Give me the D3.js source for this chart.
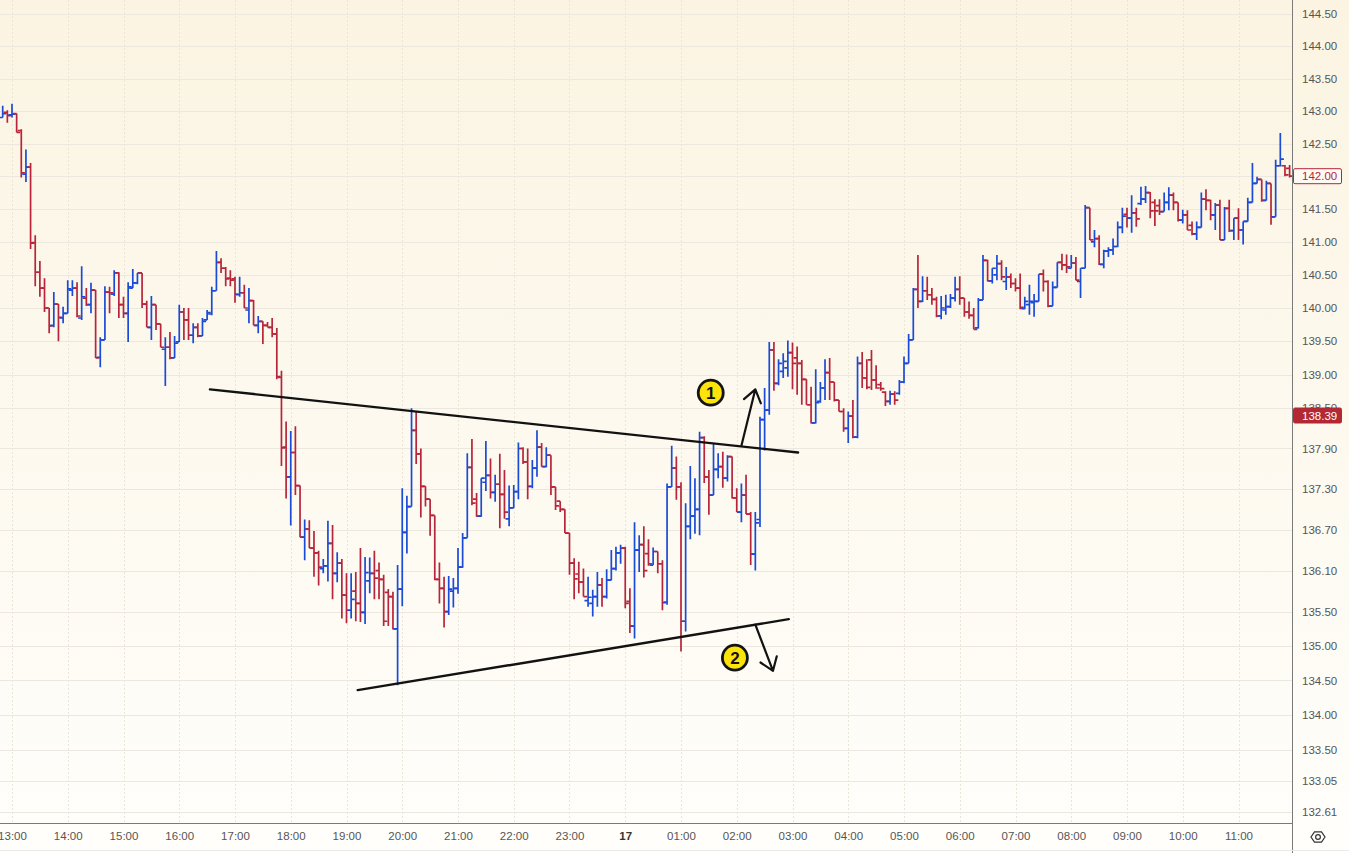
<!DOCTYPE html>
<html>
<head>
<meta charset="utf-8">
<script src="https://cdn.jsdelivr.net/npm/d3@7"></script>
<style>
  html, body { margin: 0; padding: 0; background: #fff; }
  svg { display: block; font-family: "Liberation Sans", Arial, sans-serif; }
</style>
</head>
<body>
<svg id="chart" width="1349" height="853"></svg>
<script>
// 5-minute OHLC bars, first bar at 12:50 on the 16th
const barStart = new Date(2023, 0, 16, 12, 50);
const barMinutes = 5;

const opens = [
  142.90,142.98,142.94,142.96,142.70,142.03,142.14,140.99,140.54,140.30,
  140.00,139.74,140.06,139.85,139.92,140.27,140.30,139.85,140.15,140.05,
  140.27,139.26,139.52,140.24,140.21,140.53,140.05,139.92,140.30,140.38,
  140.53,140.06,139.71,140.05,139.76,139.38,139.41,139.25,139.49,139.94,
  139.82,139.59,139.71,139.58,139.82,139.91,140.26,140.69,140.60,140.45,
  140.44,140.20,140.23,139.97,140.11,139.74,139.80,139.74,139.71,139.61,
  138.96,137.92,137.48,137.84,137.35,136.59,136.71,136.43,136.36,136.13,
  136.17,136.50,136.06,136.21,135.74,135.52,135.80,135.62,135.49,135.95,
  136.06,136.10,135.97,135.78,135.72,135.25,135.83,136.66,137.04,138.17,
  137.82,137.34,137.15,136.91,135.97,135.84,135.50,135.80,135.84,136.15,
  136.58,137.62,137.15,136.90,137.40,137.50,137.25,137.37,137.22,136.86,
  137.02,137.26,137.90,137.70,137.34,137.61,137.92,137.63,137.80,137.33,
  137.12,137.00,136.65,136.21,136.05,135.93,135.66,135.62,135.72,135.89,
  135.72,135.96,136.13,136.36,136.43,135.65,135.29,136.40,136.48,136.35,
  136.18,136.38,136.20,135.64,137.33,137.61,137.33,135.36,136.75,136.90,
  137.00,138.06,137.48,137.21,137.59,137.63,137.46,137.78,137.17,136.96,
  137.21,136.93,136.34,136.85,138.33,138.47,139.37,138.87,139.05,139.10,
  139.33,139.25,139.17,138.93,138.55,138.28,138.60,138.80,139.03,138.89,
  138.62,138.45,138.20,138.38,138.07,139.17,138.95,139.22,138.92,138.85,
  138.74,138.60,138.71,138.72,138.89,139.17,139.52,140.28,140.10,140.26,
  140.20,140.13,139.88,139.97,140.02,140.15,140.28,140.15,139.94,139.89,
  139.70,140.12,140.72,140.41,140.50,140.67,140.40,140.47,140.37,140.30,
  139.99,140.05,140.08,140.10,140.51,140.40,140.03,140.31,140.69,140.65,
  140.60,140.68,140.40,140.60,141.52,141.00,141.05,140.66,140.86,140.88,
  140.93,141.22,141.42,141.36,141.44,141.58,141.65,141.75,141.60,141.55,
  141.46,141.60,141.71,141.60,141.33,141.41,141.25,141.12,141.22,141.65,
  141.63,141.41,141.56,141.03,141.51,141.17,141.36,141.18,141.31,141.60,
  141.89,141.95,141.63,141.89,141.38,142.16,142.16,142.12
];
const highs = [
  143.08,143.01,143.11,142.96,142.72,142.41,142.20,141.10,140.71,140.45,
  140.00,140.24,140.06,140.02,140.42,140.42,140.39,140.63,140.30,140.38,
  140.27,139.56,140.33,140.32,140.57,140.54,140.17,140.39,140.59,140.53,
  140.53,140.11,140.18,140.05,139.76,139.56,139.64,139.58,140.05,140.00,
  140.00,139.77,139.77,139.85,139.97,140.32,140.86,140.75,140.62,140.57,
  140.47,140.47,140.35,140.30,140.12,139.88,139.80,139.79,139.85,139.70,
  139.06,138.30,138.16,138.23,137.35,136.85,136.84,136.68,136.39,136.27,
  136.83,136.77,136.37,136.27,136.06,136.06,136.08,136.43,136.30,136.29,
  136.39,136.22,136.04,135.83,135.79,136.18,137.31,137.20,138.50,138.45,
  137.90,137.34,137.15,136.91,136.22,136.01,136.02,135.99,136.43,136.65,
  137.83,138.04,137.24,137.46,138.01,137.75,137.51,137.82,137.58,137.35,
  137.36,137.99,137.92,137.90,137.73,138.17,137.98,137.92,137.80,137.33,
  137.12,137.00,136.65,136.28,136.23,136.13,136.01,135.82,136.08,135.99,
  136.12,136.40,136.45,136.48,136.45,135.84,136.81,136.62,136.75,136.56,
  136.44,136.38,136.25,137.38,137.94,137.78,137.40,137.09,137.64,137.46,
  138.15,138.08,137.58,137.98,137.83,137.85,137.80,137.78,137.31,137.38,
  137.51,136.96,136.96,138.37,138.80,139.49,139.49,139.23,139.32,139.51,
  139.48,139.42,139.22,138.93,138.82,139.08,138.89,139.23,139.25,138.89,
  138.62,138.50,138.45,138.62,139.27,139.34,139.23,139.37,139.14,138.89,
  138.75,138.76,138.75,138.92,139.27,139.61,140.30,140.80,140.48,140.47,
  140.30,140.17,140.18,140.20,140.21,140.47,140.48,140.15,140.10,140.00,
  140.15,140.80,140.73,140.60,140.80,140.72,140.62,140.52,140.45,140.52,
  140.17,140.35,140.21,140.51,140.58,140.42,140.40,140.69,140.82,140.81,
  140.80,140.77,140.60,141.56,141.52,141.18,141.10,140.88,140.92,141.05,
  141.31,141.52,141.52,141.71,141.52,141.84,141.85,141.76,141.65,141.65,
  141.75,141.83,141.75,141.60,141.49,141.48,141.31,141.31,141.75,141.80,
  141.64,141.59,141.64,141.53,141.64,141.36,141.51,141.31,141.67,142.20,
  141.99,141.95,141.93,141.89,142.25,142.66,142.17,142.17
];
const lows = [
  142.90,142.82,142.90,142.67,141.98,141.91,140.89,140.33,140.17,139.94,
  139.62,139.71,139.50,139.77,139.92,140.18,139.86,139.82,140.03,139.92,
  139.25,139.11,139.52,139.92,140.18,139.85,139.85,139.49,140.30,140.36,
  140.00,139.71,139.52,139.67,139.41,138.83,139.23,139.25,139.49,139.52,
  139.52,139.47,139.56,139.58,139.82,139.89,140.26,140.53,140.33,140.33,
  140.08,140.17,140.00,139.77,139.74,139.62,139.46,139.71,139.56,138.93,
  137.64,137.16,136.76,137.21,136.59,136.25,136.43,136.01,135.88,136.06,
  135.94,135.68,135.93,135.40,135.33,135.40,135.36,135.35,135.32,135.77,
  135.68,135.68,135.29,135.29,135.24,134.43,135.58,136.35,137.04,137.67,
  136.88,137.04,136.61,135.96,135.62,135.27,135.45,135.56,135.76,136.14,
  136.58,137.06,136.89,136.89,137.27,137.16,137.11,136.72,136.86,136.75,
  137.02,137.15,137.67,137.15,137.31,137.48,137.63,137.62,137.21,136.99,
  136.96,136.65,136.04,135.68,135.77,135.72,135.57,135.43,135.57,135.57,
  135.69,135.96,136.10,136.20,135.55,135.19,135.11,136.08,136.00,136.17,
  136.18,136.06,135.52,135.60,137.33,137.14,134.92,135.21,136.56,136.64,
  136.62,137.39,136.92,137.21,137.46,137.32,137.41,137.16,136.96,136.81,
  136.93,136.18,136.10,136.74,137.87,138.40,138.76,138.84,138.95,138.97,
  138.78,138.70,138.55,138.55,138.27,138.27,138.58,138.62,138.62,138.60,
  138.45,138.15,137.98,138.05,138.05,138.80,138.78,138.77,138.79,138.76,
  138.53,138.55,138.55,138.70,138.87,139.17,139.52,140.00,140.09,140.12,
  140.05,139.86,139.83,139.90,140.00,140.10,140.05,139.87,139.84,139.68,
  139.69,140.12,140.40,140.37,140.42,140.42,140.27,140.30,140.25,139.98,
  139.98,139.90,139.87,140.10,140.25,140.01,140.03,140.31,140.57,140.53,
  140.60,140.42,140.15,140.60,141.03,140.92,140.65,140.60,140.77,140.80,
  140.92,141.13,141.22,141.14,141.23,141.56,141.59,141.36,141.24,141.41,
  141.46,141.48,141.48,141.31,141.28,141.18,141.10,141.03,141.22,141.48,
  141.33,141.18,141.03,141.03,141.15,141.03,141.03,140.96,141.31,141.60,
  141.89,141.61,141.63,141.26,141.38,142.15,142.00,141.98
];
const closes = [
  142.96,142.93,142.95,142.67,142.05,142.14,140.98,140.54,140.30,140.00,
  139.73,140.06,139.86,139.92,140.29,140.30,139.88,140.17,140.05,140.27,
  139.25,139.52,140.24,140.23,140.53,140.05,139.92,140.32,140.38,140.53,
  140.06,139.71,140.05,139.76,139.41,139.41,139.25,139.47,139.94,139.82,
  139.59,139.71,139.58,139.80,139.93,140.26,140.69,140.60,140.44,140.42,
  140.21,140.23,140.00,140.11,139.74,139.80,139.74,139.71,139.61,138.97,
  137.91,137.48,137.84,137.35,136.59,136.71,136.43,136.36,136.15,136.17,
  136.50,136.06,136.21,135.74,135.52,135.68,135.62,135.49,136.07,136.06,
  135.99,135.97,135.36,135.72,135.25,135.83,136.66,137.04,138.17,137.82,
  137.34,137.15,136.91,135.97,135.84,135.50,135.83,135.84,136.15,136.58,
  137.62,137.09,136.90,137.46,137.50,137.25,137.37,137.22,136.96,137.02,
  137.26,137.90,137.70,137.34,137.61,137.92,137.63,137.80,137.33,137.05,
  137.00,136.65,136.21,135.98,135.93,135.72,135.71,135.72,135.89,135.72,
  135.96,136.13,136.36,136.43,135.62,135.29,136.40,136.48,136.10,136.20,
  136.38,136.20,135.63,137.33,137.61,137.33,135.36,136.75,136.90,137.00,
  138.06,137.48,137.21,137.59,137.63,137.46,137.78,137.17,136.96,137.21,
  136.93,136.34,136.80,138.33,138.47,139.37,138.87,139.17,139.20,139.33,
  139.17,139.17,138.93,138.55,138.28,138.58,138.80,139.03,138.89,138.62,
  138.45,138.20,138.38,138.07,139.17,138.95,138.81,138.92,138.80,138.79,
  138.60,138.71,138.62,138.89,139.17,139.52,140.28,140.10,140.26,140.20,
  140.13,139.88,140.00,140.02,140.15,140.28,140.15,139.94,139.89,139.68,
  140.12,140.72,140.41,140.60,140.67,140.47,140.47,140.37,140.30,140.01,
  140.10,140.10,140.10,140.51,140.40,140.03,140.31,140.69,140.65,140.62,
  140.68,140.42,140.60,141.52,141.03,141.05,140.66,140.86,140.88,140.93,
  141.22,141.39,141.36,141.44,141.35,141.65,141.75,141.47,141.47,141.46,
  141.60,141.71,141.60,141.33,141.41,141.18,141.12,141.22,141.65,141.63,
  141.41,141.56,141.03,141.51,141.17,141.36,141.18,141.31,141.60,141.89,
  141.95,141.63,141.89,141.38,142.16,142.26,142.02,142.00
];

// price axis labels (the axis is logarithmic)
const priceTicks = [144.50, 144.00, 143.50, 143.00, 142.50, 142.00, 141.50, 141.00, 140.50, 140.00,
  139.50, 139.00, 138.50, 137.90, 137.30, 136.70, 136.10, 135.50, 135.00, 134.50,
  134.00, 133.50, 133.05, 132.61];
const markerPrice = 138.39;

// drawings: [time, price] pairs
const at = (day, h, m) => new Date(2023, 0, day, h, m);
const upperLine = [[at(16, 16, 33), 138.78], [at(17, 3, 6), 137.84]];
const lowerLine = [[at(16, 19, 12), 134.36], [at(17, 2, 56), 135.39]];
const arrowUp = [[at(17, 2, 5), 137.94], [at(17, 2, 20), 138.78]];
const arrowDown = [[at(17, 2, 20), 135.31], [at(17, 2, 39), 134.64]];
const badges = [
  { label: "1", time: at(17, 1, 32), price: 138.73 },
  { label: "2", time: at(17, 1, 58), price: 134.83 }
];

const width = 1349, height = 853;
const plotRight = 1292, plotBottom = 823;
const blue = "#1a4bd6", red = "#b7253a";
const labelFont = "'Liberation Sans', Arial, sans-serif";

const bars = opens.map((o, i) => ({
  time: new Date(barStart.getTime() + i * barMinutes * 60000),
  open: o, high: highs[i], low: lows[i], close: closes[i]
}));

const x = d3.scaleTime()
  .domain([at(16, 13, 0), at(17, 11, 0)])
  .range([12, 1238.5]);

const y = d3.scaleLog()
  .domain([132.61, 144.5])
  .range([812, 14]);

const svg = d3.select("#chart");

// background gradient
const defs = svg.append("defs");
const grad = defs.append("linearGradient")
  .attr("id", "bg").attr("x1", 0).attr("y1", 0).attr("x2", 0).attr("y2", 1);
grad.append("stop").attr("offset", "0%").attr("stop-color", "#fbf4e2");
grad.append("stop").attr("offset", "100%").attr("stop-color", "#fffefb");
defs.append("clipPath").attr("id", "plot")
  .append("rect").attr("x", 0).attr("y", 0).attr("width", plotRight).attr("height", plotBottom);

svg.append("rect").attr("width", width).attr("height", height).attr("fill", "url(#bg)");

// grid
const hours = d3.timeHour.range(at(16, 13, 0), at(17, 11, 1));
svg.append("g")
  .selectAll("line")
  .data(hours)
  .join("line")
  .attr("x1", d => Math.round(x(d)) + 0.5)
  .attr("x2", d => Math.round(x(d)) + 0.5)
  .attr("y1", 0)
  .attr("y2", plotBottom)
  .attr("stroke", "#ebe5d8")
  .attr("stroke-dasharray", "2,2");

svg.append("g")
  .selectAll("line")
  .data(priceTicks)
  .join("line")
  .attr("x1", 0)
  .attr("x2", plotRight)
  .attr("y1", d => Math.round(y(d)) + 0.5)
  .attr("y2", d => Math.round(y(d)) + 0.5)
  .attr("stroke", "#ece8e0");

// OHLC bars
const barG = svg.append("g").attr("clip-path", "url(#plot)");
barG.selectAll("path")
  .data(bars)
  .join("path")
  .attr("d", d => {
    const cx = x(d.time);
    return `M${cx},${y(d.high)}V${y(d.low)}` +
      `M${cx - 3.6},${y(d.open)}H${cx}` +
      `M${cx},${y(d.close)}H${cx + 3.6}`;
  })
  .attr("fill", "none")
  .attr("stroke", d => d.close >= d.open ? blue : red)
  .attr("stroke-width", 1.7);

// trend lines and arrows
const line = d3.line().x(d => x(d[0])).y(d => y(d[1]));
const drawG = svg.append("g").attr("clip-path", "url(#plot)");
[upperLine, lowerLine].forEach(pts => {
  drawG.append("path")
    .attr("d", line(pts))
    .attr("stroke", "#121212")
    .attr("stroke-width", 2.4)
    .attr("fill", "none")
    .attr("stroke-linecap", "round");
});

[arrowUp, arrowDown].forEach(pts => {
  const x0 = x(pts[0][0]), y0 = y(pts[0][1]);
  const x1 = x(pts[1][0]), y1 = y(pts[1][1]);
  const ang = Math.atan2(y0 - y1, x0 - x1);
  const len = 15, spread = 0.62;
  const w1 = [x1 + len * Math.cos(ang + spread), y1 + len * Math.sin(ang + spread)];
  const w2 = [x1 + len * Math.cos(ang - spread), y1 + len * Math.sin(ang - spread)];
  drawG.append("path")
    .attr("d", `M${x0},${y0}L${x1},${y1}M${w1[0]},${w1[1]}L${x1},${y1}L${w2[0]},${w2[1]}`)
    .attr("stroke", "#121212")
    .attr("stroke-width", 2.2)
    .attr("fill", "none")
    .attr("stroke-linecap", "round")
    .attr("stroke-linejoin", "round");
});

// numbered badges
const badge = drawG.selectAll("g.badge")
  .data(badges)
  .join("g")
  .attr("class", "badge")
  .attr("transform", d => `translate(${x(d.time)},${y(d.price)})`);
badge.append("circle")
  .attr("r", 12.5)
  .attr("fill", "#fbe30b")
  .attr("stroke", "#141414")
  .attr("stroke-width", 2.8);
badge.append("text")
  .attr("text-anchor", "middle")
  .attr("dy", "0.36em")
  .attr("font-size", 17)
  .attr("font-weight", "bold")
  .attr("fill", "#111")
  .text(d => d.label);

// price axis
const yAxis = svg.append("g")
  .attr("transform", `translate(${plotRight},0)`)
  .call(d3.axisRight(y).tickValues(priceTicks).tickFormat(d3.format(".2f")).tickSize(0).tickPadding(10));
yAxis.select(".domain").remove();
yAxis.selectAll("text")
  .attr("font-family", labelFont)
  .attr("font-size", 11.5)
  .attr("fill", "#555");

svg.append("line")
  .attr("x1", plotRight + 0.5).attr("x2", plotRight + 0.5)
  .attr("y1", 0).attr("y2", height)
  .attr("stroke", "#7a7a7a");

// time axis
const xAxis = svg.append("g")
  .attr("transform", `translate(0,${plotBottom})`)
  .call(d3.axisBottom(x)
    .tickValues(hours)
    .tickSize(0)
    .tickPadding(9)
    .tickFormat(d => d.getHours() === 0 ? String(d.getDate()) : d3.timeFormat("%H:%M")(d)));
xAxis.select(".domain").remove();
xAxis.selectAll("text")
  .attr("font-family", labelFont)
  .attr("font-size", 11.5)
  .attr("fill", d => d.getHours() === 0 ? "#333" : "#555")
  .attr("font-weight", d => d.getHours() === 0 ? "bold" : "normal");

svg.append("line")
  .attr("x1", 0).attr("x2", plotRight)
  .attr("y1", plotBottom + 0.5).attr("y2", plotBottom + 0.5)
  .attr("stroke", "#7a7a7a");
svg.append("line")
  .attr("x1", 0).attr("x2", width)
  .attr("y1", height - 2.5).attr("y2", height - 2.5)
  .attr("stroke", "#ebebeb");

// price tags on the axis
function priceTag(price, fill, stroke, color) {
  const g = svg.append("g").attr("transform", `translate(${plotRight + 1},${y(price)})`);
  g.append("rect")
    .attr("x", 0.5).attr("y", -7.5)
    .attr("width", 48).attr("height", 15)
    .attr("rx", 1.5)
    .attr("fill", fill)
    .attr("stroke", stroke);
  g.append("text")
    .attr("x", 9).attr("dy", "0.35em")
    .attr("font-family", labelFont)
    .attr("font-size", 11.5)
    .attr("fill", color)
    .text(d3.format(".2f")(price));
}
priceTag(closes[closes.length - 1], "#fdfaf3", "#b7253a", "#b7253a");
priceTag(markerPrice, "#b22833", "#b22833", "#ffffff");

// settings icon in the corner
const gear = svg.append("g").attr("transform", `translate(1318,837)`);
gear.append("path")
  .attr("d", d3.range(6).map((k, j) => {
    const a = Math.PI / 3 * k;
    return (j ? "L" : "M") + (7 * Math.cos(a)) + "," + (6 * Math.sin(a));
  }).join("") + "Z")
  .attr("fill", "none")
  .attr("stroke", "#333")
  .attr("stroke-width", 1.2);
gear.append("circle").attr("r", 2.4).attr("fill", "none").attr("stroke", "#333").attr("stroke-width", 1.2);
</script>
</body>
</html>
